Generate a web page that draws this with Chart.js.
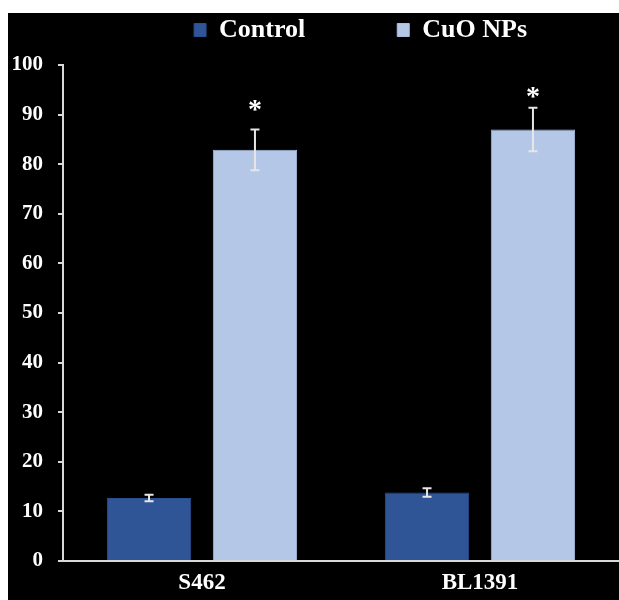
<!DOCTYPE html>
<html>
<head>
<meta charset="utf-8">
<script src="https://cdn.jsdelivr.net/npm/chart.js@4"></script>
<style>
  html, body { margin: 0; padding: 0; background: #ffffff; }
  #wrap { width: 619px; height: 600px; }
</style>
</head>
<body>
<div id="wrap"><canvas id="chart" width="619" height="600"></canvas></div>
<script>
// Strains tested
const categories = ['S462', 'BL1391'];
// Mean values per group
const controlValues = [12.7, 13.8];
const cuoValues = [82.9, 87.0];
// Standard deviations (drawn as error bars)
const controlErrors = [0.65, 0.85];
const cuoErrors = [4.1, 4.4];
// Significance markers above the treated bars, and the height they sit at
const cuoMarks = ['*', '*'];
const cuoMarkLevels = [91.6, 94.3];
// Y axis ticks
const yTicks = [0, 10, 20, 30, 40, 50, 60, 70, 80, 90, 100];

const SERIF = "'Liberation Serif', 'Times New Roman', serif";
const AXIS_COLOR = '#d9d9d9';

// Dark panel behind the plot, with a thin white margin at top and left
const panelPlugin = {
  id: 'panel',
  beforeDraw(chart) {
    const ctx = chart.ctx;
    ctx.save();
    ctx.fillStyle = '#ffffff';
    ctx.fillRect(0, 0, chart.width, chart.height);
    ctx.fillStyle = '#000000';
    ctx.fillRect(8, 13, chart.width - 8, chart.height - 13);
    ctx.restore();
  }
};

// Error bars and significance asterisks, positioned through the chart scales
const errorBarPlugin = {
  id: 'errorBars',
  afterDatasetsDraw(chart) {
    const ctx = chart.ctx;
    const yScale = chart.scales.y;
    const errs = [controlErrors, cuoErrors];
    const marks = [null, cuoMarks];
    const levels = [null, cuoMarkLevels];
    ctx.save();
    chart.data.datasets.forEach((ds, di) => {
      const meta = chart.getDatasetMeta(di);
      meta.data.forEach((bar, i) => {
        const v = ds.data[i];
        const e = errs[di][i];
        const x = bar.x;
        const yTop = yScale.getPixelForValue(v + e);
        const yBot = yScale.getPixelForValue(v - e);
        ctx.strokeStyle = '#e6e6e6';
        ctx.lineWidth = 2;
        ctx.beginPath();
        ctx.moveTo(x, yTop); ctx.lineTo(x, yBot);
        ctx.moveTo(x - 4.5, yTop); ctx.lineTo(x + 4.5, yTop);
        ctx.moveTo(x - 4.5, yBot); ctx.lineTo(x + 4.5, yBot);
        ctx.stroke();
        if (marks[di] && marks[di][i]) {
          ctx.fillStyle = '#ffffff';
          ctx.font = 'bold 28px ' + SERIF;
          ctx.textAlign = 'center';
          ctx.textBaseline = 'middle';
          ctx.fillText(marks[di][i], x, yScale.getPixelForValue(levels[di][i]) + 4);
        }
      });
    });
    ctx.restore();
  }
};

new Chart(document.getElementById('chart'), {
  type: 'bar',
  data: {
    labels: categories,
    datasets: [
      {
        label: 'Control',
        data: controlValues,
        backgroundColor: '#2F5597',
        borderColor: '#2a4f8f',
        borderWidth: 1,
        categoryPercentage: 0.762,
        barPercentage: 0.796
      },
      {
        label: 'CuO NPs',
        data: cuoValues,
        backgroundColor: '#B4C7E7',
        borderColor: '#a9bde0',
        borderWidth: 1,
        categoryPercentage: 0.762,
        barPercentage: 0.796
      }
    ]
  },
  options: {
    responsive: false,
    animation: false,
    devicePixelRatio: 1,
    layout: { padding: { left: 8, top: -75, right: 0, bottom: 3 } },
    plugins: {
      tooltip: { enabled: false },
      legend: {
        position: 'top',
        align: 'end',
        labels: {
          color: '#ffffff',
          font: { family: SERIF, size: 26, weight: 'bold' },
          boxWidth: 12,
          boxHeight: 13,
          padding: 92
        }
      }
    },
    scales: {
      x: {
        afterFit(scale) { scale.height = 36; },
        grid: { display: false, drawTicks: false },
        border: { display: true, color: AXIS_COLOR, width: 2 },
        ticks: {
          color: '#ffffff',
          padding: 8,
          font: { family: SERIF, size: 23, weight: 'bold' }
        }
      },
      // spacer axis between the legend and the plot top
      xTop: {
        type: 'category',
        position: 'top',
        afterFit(scale) { scale.height = 12; },
        grid: { display: false, drawTicks: false },
        border: { display: false },
        ticks: { display: false }
      },
      y: {
        min: 0,
        max: 100,
        afterFit(scale) { scale.width = 55; },
        afterBuildTicks(scale) { scale.ticks = yTicks.map(v => ({ value: v })); },
        grid: {
          drawOnChartArea: false,
          drawTicks: true,
          tickLength: 5,
          color: AXIS_COLOR,
          lineWidth: 2
        },
        border: { display: true, color: AXIS_COLOR, width: 2 },
        ticks: {
          color: '#ffffff',
          padding: 15,
          font: { family: SERIF, size: 21, weight: 'bold' }
        }
      }
    }
  },
  plugins: [panelPlugin, errorBarPlugin]
});
</script>
</body>
</html>
